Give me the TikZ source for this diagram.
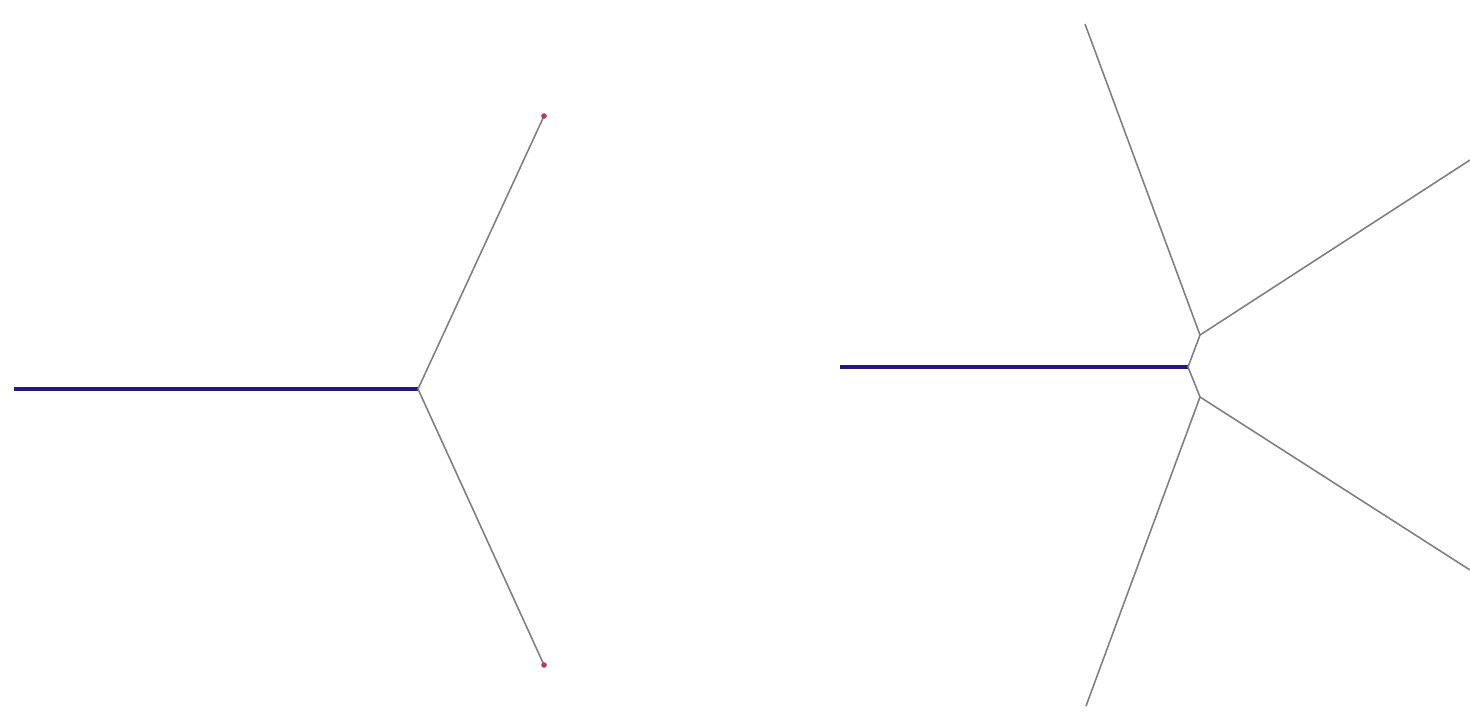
\documentclass[tikz,border=0pt]{standalone}
\usetikzlibrary{positioning}
\definecolor{stemblue}{RGB}{40,20,130}
\definecolor{branchgray}{RGB}{130,125,130}
\definecolor{tipred}{RGB}{180,60,100}
\tikzset{
  stem/.style={stemblue, line width=1pt},
  branch/.style={branchgray, line width=0.45pt},
  tip/.style={fill=tipred, draw=none}
}
\begin{document}
\begin{tikzpicture}[x=0.01cm,y=-0.01cm]
  \useasboundingbox (0,0) rectangle (1470,712);
  % left picture
  \coordinate (ls) at (14,389);
  \coordinate (lv) at (418,389);
  \coordinate (lu) at (544,116);
  \coordinate (ld) at (544,665);
  \draw[stem] (ls) -- (lv);
  \draw[branch] (lu) -- (lv) -- (ld);
  \fill[tip] (lu) circle (0.8pt);
  \fill[tip] (ld) circle (0.8pt);
  % right picture
  \coordinate (rs) at (840,367);
  \coordinate (re) at (1188,367);
  \coordinate (ru) at (1200,335);
  \coordinate (rd) at (1200,397);
  \coordinate (rul) at (1085,24);
  \coordinate (rur) at (1470,160);
  \coordinate (rdr) at (1470,570);
  \coordinate (rdl) at (1086,706);
  \draw[stem] (rs) -- (re);
  \draw[branch] (rul) -- (ru) -- (re) -- (rd) -- (rdl);
  \draw[branch] (ru) -- (rur);
  \draw[branch] (rd) -- (rdr);
\end{tikzpicture}
\end{document}
